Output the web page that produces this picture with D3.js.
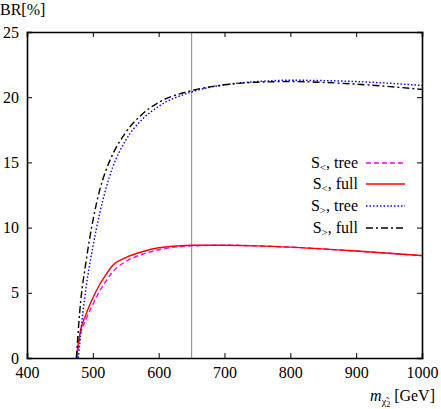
<!DOCTYPE html><html><head><script src="https://d3js.org/d3.v7.min.js"></script>
<style>body{margin:0;background:#fff}text{font-family:"Liberation Serif",serif;font-size:16px}</style></head><body><svg width="441" height="409"></svg><script>
const xTicks=[400,500,600,700,800,900,1000];
const yTicks=[0,5,10,15,20,25];
const sLtTreeX=[476,480,490,500,510,520,530,550,575,600,650,700,750,800,900,1000];
const sLtTreeY=[0,1.5,3.0,4.1,5.1,5.9,6.6,7.4,7.95,8.3,8.6,8.65,8.6,8.5,8.2,7.85];
const sLtFullX=[475,480,490,500,510,520,530,550,575,600,650,700,750,800,900,1000];
const sLtFullY=[0,1.8,3.4,4.6,5.6,6.4,7.1,7.7,8.15,8.45,8.65,8.65,8.6,8.5,8.2,7.85];
const sGtTreeX=[478,485,490,500,510,520,530,550,575,600,650,700,750,800,900,1000];
const sGtTreeY=[0,3.5,5.5,8.5,11.0,13.0,14.6,16.7,18.3,19.3,20.4,20.95,21.2,21.3,21.2,20.9];
const sGtFullX=[475,480,490,500,510,520,530,550,575,600,650,700,750,800,900,1000];
const sGtFullY=[0,3.5,7.5,10.5,12.8,14.4,15.6,17.3,18.7,19.6,20.5,20.95,21.15,21.2,21.0,20.6];
const series=[
 {lab:["S","<",", tree"],x:sLtTreeX,y:sLtTreeY,c:"#ff00ff",d:"5,3"},
 {lab:["S","<",", full"],x:sLtFullX,y:sLtFullY,c:"#ff0000",d:null},
 {lab:["S",">",", tree"],x:sGtTreeX,y:sGtTreeY,c:"#0000ff",d:"1.5,2"},
 {lab:["S",">",", full"],x:sGtFullX,y:sGtFullY,c:"#000000",d:"7,3,2,3"}];
const svg=d3.select("svg");
const x=d3.scaleLinear().domain([400,1000]).range([27,422]);
const y=d3.scaleLinear().domain([0,25]).range([358,32]);
svg.append("line").attr("x1",x(650)).attr("x2",x(650)).attr("y1",y(0)).attr("y2",y(25)).attr("stroke","#999").attr("stroke-width",1.2);
const line=d3.line().curve(d3.curveMonotoneX);
series.forEach(s=>{
 svg.append("path").attr("d",line(s.x.map((v,i)=>[x(v),y(s.y[i])]))).attr("fill","none").attr("stroke",s.c).attr("stroke-width",1.4).attr("stroke-dasharray",s.d);
});
svg.append("g").attr("transform","translate(0,358)").call(d3.axisBottom(x).tickValues(xTicks).tickSize(-5).tickPadding(9).tickFormat(d3.format("d")));
svg.append("g").attr("transform","translate(27,0)").call(d3.axisLeft(y).tickValues(yTicks).tickSize(-5).tickPadding(8));
svg.append("g").attr("transform","translate(0,32)").call(d3.axisTop(x).tickValues(xTicks).tickSize(-5).tickFormat(""));
svg.append("g").attr("transform","translate(422,0)").call(d3.axisRight(y).tickValues(yTicks).tickSize(-5).tickFormat(""));
svg.selectAll(".domain").attr("stroke","#000").attr("stroke-width",1.6);
svg.selectAll(".tick line").attr("stroke","#000");
svg.selectAll(".tick text").style("font-family","Liberation Serif").style("font-size","16px").attr("fill","#000");
svg.append("text").attr("x",0).attr("y",15).text("BR[%]");
const xl=svg.append("text").attr("x",435).attr("y",401).attr("text-anchor","end");
xl.append("tspan").attr("font-style","italic").text("m");
xl.append("tspan").attr("dy",4).style("font-size","10px").text("χ̃");
xl.append("tspan").attr("dy",2).style("font-size","8px").text("2");
xl.append("tspan").attr("dy",-6).text(" [GeV]");
const ly=[163,184,206,228];
series.forEach((s,i)=>{
 const t=svg.append("text").attr("x",358).attr("y",ly[i]+5).attr("text-anchor","end");
 t.append("tspan").text(s.lab[0]);
 t.append("tspan").attr("dy",3).style("font-size","11px").text(s.lab[1]);
 t.append("tspan").attr("dy",-3).text(s.lab[2]);
 svg.append("line").attr("x1",366).attr("x2",405).attr("y1",ly[i]).attr("y2",ly[i]).attr("stroke",s.c).attr("stroke-width",1.4).attr("stroke-dasharray",s.d);
});
</script></body></html>
